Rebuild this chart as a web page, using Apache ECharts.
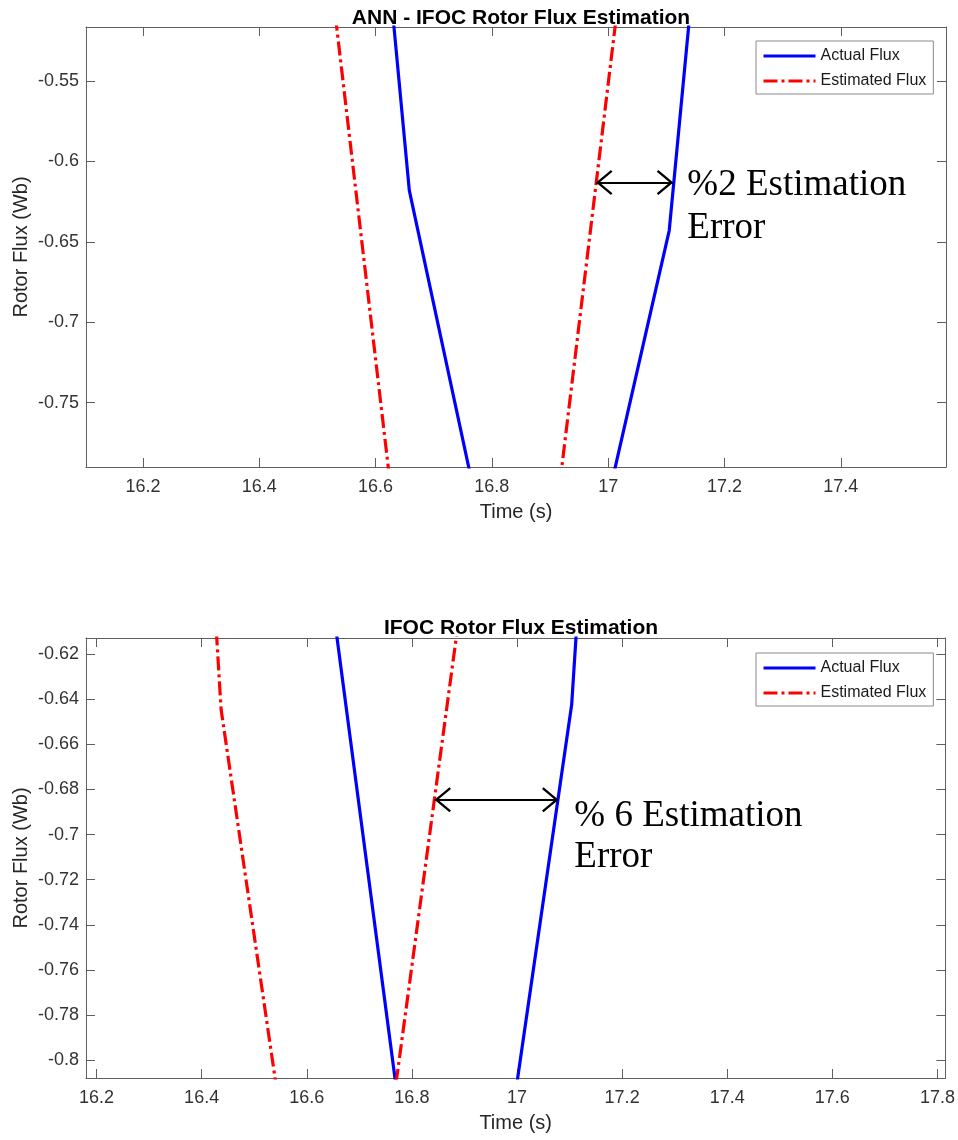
<!DOCTYPE html>
<html>
<head>
<meta charset="utf-8">
<title>Rotor Flux Estimation</title>
<script src="https://cdn.jsdelivr.net/npm/echarts@6/dist/echarts.min.js"></script>
<style>
  html, body { margin: 0; padding: 0; background: #fff; }
  #chart { width: 958px; height: 1140px; }
</style>
</head>
<body>
<div id="chart"></div>
<script>
// Values (time in s, flux in Wb). null = break in the curve.
// Top panel: ANN - IFOC
const annActualT = [16.630, 16.658, 16.766, null, 17.006, 17.105, 17.140];
const annActualV = [-0.510, -0.618, -0.800, null, -0.800, -0.643, -0.510];
const annEstT = [16.531, 16.625, null, 16.917, 17.014];
const annEstV = [-0.510, -0.800, null, -0.800, -0.510];

// Bottom panel: IFOC
const ifocActualT = [16.656, 16.769, null, 17.000, 17.104, 17.113];
const ifocActualV = [-0.610, -0.810, null, -0.810, -0.6425, -0.610];
const ifocEstT = [16.428, 16.437, 16.541, null, 16.770, 16.886];
const ifocEstV = [-0.610, -0.6445, -0.810, null, -0.810, -0.610];

// tick labels
const annTimeTicks = [16.2, 16.4, 16.6, 16.8, 17, 17.2, 17.4];
const annFluxTicks = [-0.75, -0.7, -0.65, -0.6, -0.55];
const ifocTimeTicks = [16.2, 16.4, 16.6, 16.8, 17, 17.2, 17.4, 17.6, 17.8];
const ifocFluxTicks = [-0.8, -0.78, -0.76, -0.74, -0.72, -0.7, -0.68, -0.66, -0.64, -0.62];

// error arrows: [from, to] time at one flux level
const annArrowT = [16.979, 17.112];
const annArrowV = -0.6131;
const ifocArrowT = [16.843, 17.079];
const ifocArrowV = -0.6846;

const annNote = '%2 Estimation\nError';
const ifocNote = '% 6 Estimation\nError';

const SANS = '"Liberation Sans", Arial, sans-serif';
const SERIF = '"Liberation Serif", "Times New Roman", serif';
const AXIS_COLOR = '#5f5f5f';
const TEXT_COLOR = '#333333';
const CHEVRON = 'path://M12.5,0L25,15L23.3,16.5L12.5,3.6L1.7,16.5L0,15Z';

const pairs = (t, v) => t.map((x, i) => (x === null ? ['-', '-'] : [x, v[i]]));

function makeAxis(grid, position, min, max, ticks, name, nameGap, showLabels) {
  return {
    type: 'value',
    gridIndex: grid,
    position: position,
    min: min,
    max: max,
    axisLine: { show: true, onZero: false, lineStyle: { color: AXIS_COLOR, width: 1 } },
    axisTick: { show: true, inside: true, length: 9, customValues: ticks, lineStyle: { color: AXIS_COLOR } },
    axisLabel: {
      show: showLabels,
      customValues: ticks,
      margin: (position === 'bottom') ? 11 : 7,
      color: TEXT_COLOR,
      fontSize: 18,
      fontFamily: SANS
    },
    splitLine: { show: false },
    name: showLabels ? name : '',
    nameLocation: 'middle',
    nameGap: nameGap,
    nameMoveOverlap: false,
    nameTextStyle: { fontSize: 20, color: '#262626', fontFamily: SANS }
  };
}

function errorArrow(t, v) {
  const end = x => ({ coord: [x, v], symbol: CHEVRON, symbolSize: [25, 16.5], symbolOffset: [0, '50%'] });
  return {
    silent: true,
    animation: false,
    label: { show: false },
    lineStyle: { color: '#000', width: 2, type: 'solid' },
    emphasis: { disabled: true },
    data: [[end(t[0]), end(t[1])]]
  };
}

function errorNote(at, text, size, lh) {
  return {
    silent: true,
    animation: false,
    symbol: 'circle',
    symbolSize: 1,
    itemStyle: { color: 'rgba(0,0,0,0)' },
    label: {
      show: true,
      formatter: text,
      position: [0, -lh / 2],
      align: 'left',
      verticalAlign: 'top',
      fontFamily: SERIF,
      fontSize: size,
      lineHeight: lh,
      color: '#000'
    },
    data: [{ coord: at }]
  };
}

function fluxSeries(name, xi, yi, data, color, dashed, extra) {
  return Object.assign({
    name: name,
    type: 'line',
    xAxisIndex: xi,
    yAxisIndex: yi,
    data: data,
    symbol: 'none',
    connectNulls: false,
    itemStyle: { color: color },
    lineStyle: { color: color, width: 3.2, type: dashed ? [14, 4, 3, 4] : 'solid' }
  }, extra || {});
}

const legendBase = {
  orient: 'vertical',
  left: 756,
  data: ['Actual Flux', 'Estimated Flux'],
  itemWidth: 52,
  itemHeight: 14,
  itemGap: 9,
  padding: [7, 7, 5, 6],
  borderColor: '#8a8a8a',
  borderWidth: 1,
  backgroundColor: '#fff',
  selectedMode: false,
  itemStyle: { opacity: 0 },
  lineStyle: { width: 3 },
  textStyle: { fontSize: 16, color: '#1a1a1a', fontFamily: SANS }
};

const titleStyle = { fontSize: 21, fontWeight: 'bold', color: '#000', fontFamily: SANS };

const option = {
  animation: false,
  backgroundColor: '#fff',
  title: [
    { text: 'ANN - IFOC Rotor Flux Estimation', left: 516, top: 3, textAlign: 'center', textStyle: titleStyle },
    { text: 'IFOC Rotor Flux Estimation', left: 516, top: 613, textAlign: 'center', textStyle: titleStyle }
  ],
  legend: [
    Object.assign({}, legendBase, { top: 41 }),
    Object.assign({}, legendBase, { top: 653 })
  ],
  grid: [
    { left: 86, top: 27, width: 860, height: 440 },
    { left: 86, top: 638, width: 860, height: 440 }
  ],
  xAxis: [
    makeAxis(0, 'bottom', 16.102, 17.581, annTimeTicks, 'Time (s)', 35, true),
    makeAxis(0, 'top', 16.102, 17.581, annTimeTicks, '', 0, false),
    makeAxis(1, 'bottom', 16.18, 17.815, ifocTimeTicks, 'Time (s)', 35, true),
    makeAxis(1, 'top', 16.18, 17.815, ifocTimeTicks, '', 0, false)
  ],
  yAxis: [
    makeAxis(0, 'left', -0.7901, -0.5164, annFluxTicks, 'Rotor Flux (Wb)', 55, true),
    makeAxis(0, 'right', -0.7901, -0.5164, annFluxTicks, '', 0, false),
    makeAxis(1, 'left', -0.8079, -0.6129, ifocFluxTicks, 'Rotor Flux (Wb)', 55, true),
    makeAxis(1, 'right', -0.8079, -0.6129, ifocFluxTicks, '', 0, false)
  ],
  series: [
    fluxSeries('Actual Flux', 0, 0, pairs(annActualT, annActualV), '#0000ff', false),
    fluxSeries('Estimated Flux', 0, 0, pairs(annEstT, annEstV), '#ff0000', true, {
      markLine: errorArrow(annArrowT, annArrowV),
      markPoint: errorNote([17.137, -0.6150], annNote, 37, 43)
    }),
    fluxSeries('Actual Flux', 2, 2, pairs(ifocActualT, ifocActualV), '#0000ff', false),
    fluxSeries('Estimated Flux', 2, 2, pairs(ifocEstT, ifocEstV), '#ff0000', true, {
      markLine: errorArrow(ifocArrowT, ifocArrowV),
      markPoint: errorNote([17.110, -0.6920], ifocNote, 37, 41)
    })
  ]
};

const chart = echarts.init(document.getElementById('chart'), null, { renderer: 'canvas' });
chart.setOption(option);
</script>
</body>
</html>
